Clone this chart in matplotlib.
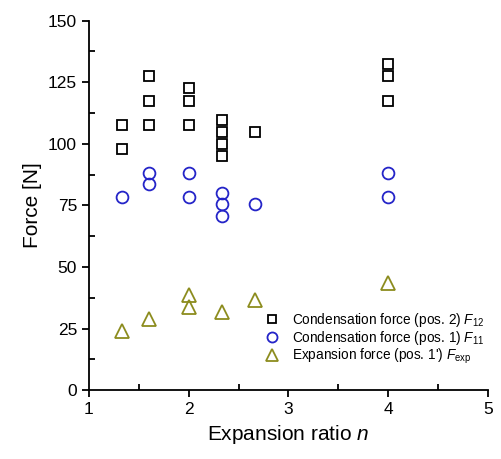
import matplotlib
matplotlib.use("Agg")
import matplotlib.pyplot as plt
from matplotlib.ticker import MultipleLocator

plt.rcParams['font.family'] = ['Liberation Sans', 'DejaVu Sans']
plt.rcParams['mathtext.fontset'] = 'custom'
plt.rcParams['mathtext.rm'] = 'Liberation Sans'
plt.rcParams['mathtext.it'] = 'Liberation Sans:italic'

# Data
f12_x = [1.33, 1.33, 1.6, 1.6, 1.6, 2.0, 2.0, 2.0, 2.33, 2.33, 2.33, 2.33, 2.67, 4.0, 4.0, 4.0]
f12_y = [107.5, 98, 127.5, 117.5, 107.5, 122.5, 117.5, 107.5, 109.5, 105, 100, 95, 105, 132.5, 127.5, 117.5]

f11_x = [1.33, 1.6, 1.6, 2.0, 2.0, 2.33, 2.33, 2.33, 2.67, 4.0, 4.0]
f11_y = [78.5, 88, 83.5, 88, 78.5, 80, 75.5, 70.5, 75.5, 88, 78.5]

fexp_x = [1.33, 1.6, 2.0, 2.0, 2.33, 2.67, 4.0]
fexp_y = [24, 28.8, 38.5, 33.8, 31.6, 36.5, 43.5]

labels = ["Condensation force (pos. 2) $F_{12}$",
          "Condensation force (pos. 1) $F_{11}$",
          "Expansion force (pos. 1') $F_{\\mathrm{exp}}$"]

fig = plt.figure(figsize=(5.02, 4.59), dpi=100)
ax = fig.add_axes([0.177, 0.150, 0.795, 0.805])

ax.plot(f12_x, f12_y, linestyle='none', marker='s', markersize=7.5, markerfacecolor='none',
        markeredgecolor='black', markeredgewidth=1.3, label=labels[0])
ax.plot(f11_x, f11_y, linestyle='none', marker='o', markersize=8.5, markerfacecolor='none',
        markeredgecolor='#2424c8', markeredgewidth=1.3, label=labels[1])
ax.plot(fexp_x, fexp_y, linestyle='none', marker='^', markersize=9.5, markerfacecolor='none',
        markeredgecolor='#8c8c1e', markeredgewidth=1.3, label=labels[2])

ax.set_xlim(1, 5)
ax.set_ylim(0, 150)
ax.xaxis.set_major_locator(MultipleLocator(1))
ax.xaxis.set_minor_locator(MultipleLocator(0.5))
ax.yaxis.set_major_locator(MultipleLocator(25))
ax.yaxis.set_minor_locator(MultipleLocator(12.5))

ax.spines['top'].set_visible(False)
ax.spines['right'].set_visible(False)
ax.spines['left'].set_linewidth(1.3)
ax.spines['bottom'].set_linewidth(1.3)

ax.tick_params(which='major', direction='out', length=5, width=1.3, labelsize=12.5)
ax.tick_params(which='minor', direction='in', length=4, width=1.3)

ax.set_xlabel("Expansion ratio $n$", fontsize=15)
ax.set_ylabel("Force [N]", fontsize=15)

leg = ax.legend(loc='lower right', frameon=False, fontsize=9.8, handletextpad=0.5,
                labelspacing=0.0, bbox_to_anchor=(1.005, 0.05), borderaxespad=0.0,
                markerscale=0.85)

fig.savefig("out.png", dpi=100)
